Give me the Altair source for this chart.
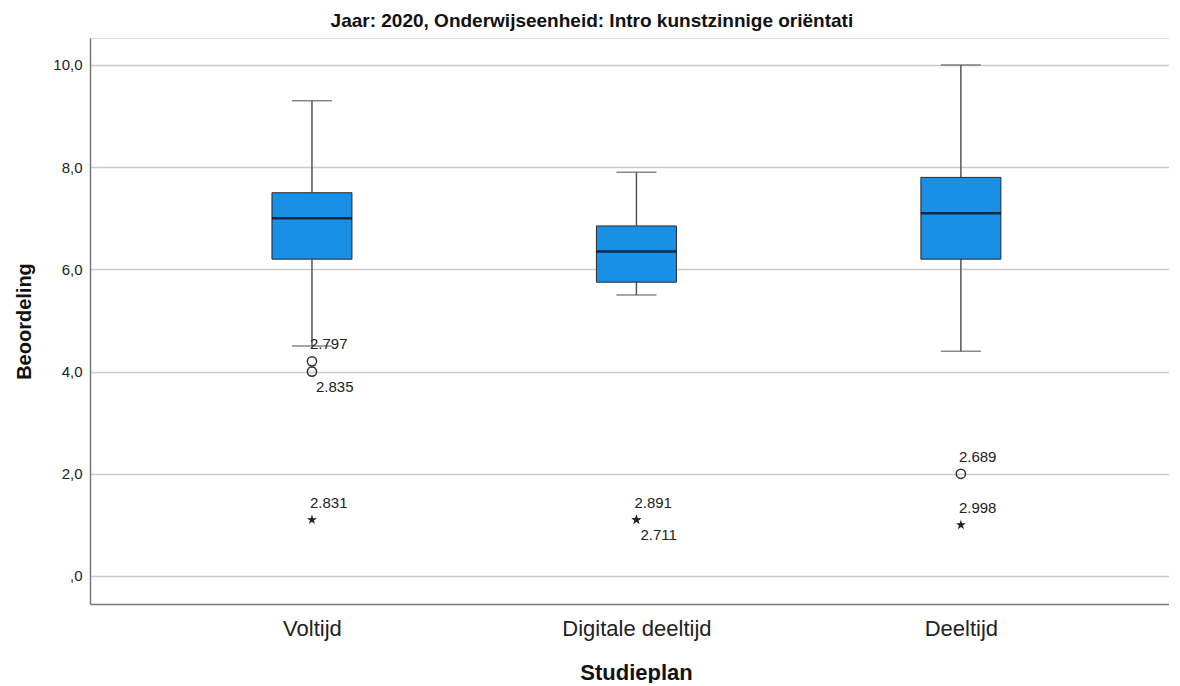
import altair as alt
import pandas as pd

categories = ["Voltijd", "Digitale deeltijd", "Deeltijd"]
lower = [4.5, 5.5, 4.4]
q1 = [6.2, 5.75, 6.2]
median = [7.0, 6.35, 7.1]
q3 = [7.5, 6.85, 7.8]
upper = [9.3, 7.9, 10.0]

out_cat = ["Voltijd", "Voltijd", "Voltijd", "Digitale deeltijd", "Digitale deeltijd", "Deeltijd", "Deeltijd"]
out_val = [4.2, 4.0, 1.1, 1.1, 1.1, 2.0, 1.0]
out_kind = ["circle", "circle", "star", "star", "star", "circle", "star"]
out_label = ["2.797", "2.835", "2.831", "2.891", "2.711", "2.689", "2.998"]
out_place = ["above", "below", "above", "above", "below", "above", "above"]

pos_of = {c: i + 1 for i, c in enumerate(categories)}
boxes = pd.DataFrame({"cat": categories, "pos": [pos_of[c] for c in categories],
                      "lower": lower, "q1": q1, "median": median, "q3": q3, "upper": upper})
outs = pd.DataFrame({"cat": out_cat, "pos": [pos_of[c] for c in out_cat], "value": out_val,
                     "kind": out_kind, "label": out_label, "place": out_place})

FONT = "Liberation Sans"
xscale = alt.Scale(domain=[0.3313, 3.626], nice=False, zero=False)
yscale = alt.Scale(domain=[-0.548, 10.528], nice=False, zero=False)

label_expr = "datum.value == 1 ? 'Voltijd' : datum.value == 2 ? 'Digitale deeltijd' : datum.value == 3 ? 'Deeltijd' : ''"
xaxis = alt.Axis(values=[1, 2, 3], labelExpr=label_expr, ticks=False, grid=False, domainColor="#777",
                 domainWidth=1.5, labelFontSize=22, labelColor="#222", labelPadding=14, labelFont=FONT,
                 title="Studieplan", titleFontSize=22, titleFont=FONT, titleFontWeight="bold",
                 titleColor="#111", titlePadding=23, titleX=546)
yaxis = alt.Axis(values=[0, 2, 4, 6, 8, 10],
                 labelExpr="datum.value == 0 ? ',0' : replace(format(datum.value, '.1f'), '.', ',')",
                 ticks=False, grid=True, gridColor="#cccccc", gridWidth=1.5, domainColor="#777",
                 domainWidth=1.5, labelFontSize=15, labelColor="#222", labelPadding=8, labelFont=FONT,
                 title="Beoordeling", titleFontSize=20, titleFont=FONT, titleFontWeight="bold",
                 titleColor="#111", titlePadding=18)

base = alt.Chart(boxes)
x = alt.X("pos:Q", scale=xscale, axis=xaxis)

whisk_lo = base.mark_rule(color="#555", strokeWidth=1.5).encode(
    x=x, y=alt.Y("lower:Q", scale=yscale, axis=yaxis), y2="q1:Q")
whisk_hi = base.mark_rule(color="#555", strokeWidth=1.5).encode(x="pos:Q", y="q3:Q", y2="upper:Q")
cap_lo = base.mark_tick(orient="horizontal", size=40, thickness=1.5, color="#555").encode(x="pos:Q", y="lower:Q")
cap_hi = base.mark_tick(orient="horizontal", size=40, thickness=1.5, color="#555").encode(x="pos:Q", y="upper:Q")
box = base.mark_bar(size=80, color="#1A8FE6", stroke="#2a2a2a", strokeWidth=1).encode(
    x="pos:Q", y="q1:Q", y2="q3:Q")
med = base.mark_tick(orient="horizontal", size=80, thickness=2.5, color="#000").encode(x="pos:Q", y="median:Q")

ob = alt.Chart(outs)
circles = ob.transform_filter("datum.kind == 'circle'").mark_point(
    shape="circle", size=85, filled=False, color="#333", strokeWidth=1.5, opacity=1).encode(x="pos:Q", y="value:Q")
star_path = "M0,-1L0.2245,-0.309L0.951,-0.309L0.363,0.118L0.588,0.809L0,0.382L-0.588,0.809L-0.363,0.118L-0.951,-0.309L-0.2245,-0.309Z"
stars = ob.transform_filter("datum.kind == 'star'").mark_point(
    shape=star_path, size=110, filled=True, color="#222", opacity=1).encode(x="pos:Q", y="value:Q")
lab_above = ob.transform_filter("datum.place == 'above'").mark_text(
    align="left", baseline="middle", dx=-2, dy=-17, fontSize=15, font=FONT, color="#222").encode(
    x="pos:Q", y="value:Q", text="label:N")
lab_below = ob.transform_filter("datum.place == 'below'").mark_text(
    align="left", baseline="middle", dx=4, dy=15, fontSize=15, font=FONT, color="#222").encode(
    x="pos:Q", y="value:Q", text="label:N")

chart = alt.layer(whisk_lo, whisk_hi, cap_lo, cap_hi, box, med, circles, stars, lab_above, lab_below).properties(
    width=1079, height=566,
    title=alt.TitleParams("Jaar: 2020, Onderwijseenheid: Intro kunstzinnige oriëntati", fontSize=19,
                          font=FONT, fontWeight="bold", color="#111", anchor="middle", frame="bounds", offset=7),
    padding={"left": 6, "top": 4, "right": 0, "bottom": 0},
).configure_view(stroke=None).configure(background="white")

chart.save("out.html", embed_options={"renderer": "svg", "actions": False})
